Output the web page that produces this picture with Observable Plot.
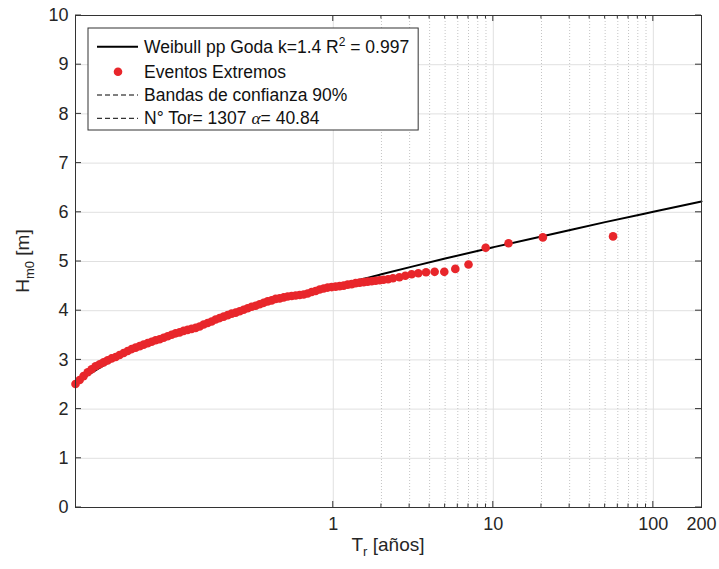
<!DOCTYPE html>
<html><head><meta charset="utf-8">
<script src="https://cdn.jsdelivr.net/npm/d3@7"></script>
<script src="https://cdn.jsdelivr.net/npm/@observablehq/plot@0.6"></script>
<style>body{margin:0;background:#fff} svg{display:block}</style>
</head><body><div id="chart"></div>
<script>
// Extreme events: return period Tr [years] and Hm0 [m]
const eventTr = [0.0245,0.0260,0.0275,0.0292,0.0309,0.0327,0.0347,0.0367,0.0389,0.0412,
  0.0437,0.0462,0.0490,0.0519,0.0550,0.0582,0.0617,0.0653,0.0692,0.0733,
  0.0776,0.0822,0.0871,0.0923,0.0977,0.1035,0.1096,0.1161,0.1230,0.1303,
  0.1380,0.1462,0.1549,0.1641,0.1738,0.1841,0.1950,0.2065,0.2188,0.2317,
  0.2455,0.2600,0.2754,0.2917,0.3090,0.3273,0.3467,0.3673,0.3890,0.4121,
  0.4365,0.4624,0.4898,0.5188,0.5495,0.5821,0.6166,0.6531,0.6918,0.7328,
  0.7762,0.8222,0.8710,0.9226,0.9772,1.035,1.096,1.161,1.230,1.303,
  1.380,1.462,1.549,1.641,1.738,1.841,1.950,
  2.06,2.20,2.36,2.59,2.82,3.09,3.40,3.80,4.30,4.94,5.79,7.0,8.96,12.45,20.4,56.0];
const eventH = [2.51,2.59,2.67,2.75,2.81,2.87,2.91,2.95,2.99,3.03,
  3.06,3.10,3.14,3.18,3.22,3.25,3.28,3.31,3.34,3.37,
  3.40,3.42,3.45,3.48,3.51,3.54,3.56,3.59,3.61,3.63,
  3.65,3.68,3.72,3.75,3.78,3.82,3.85,3.88,3.91,3.94,
  3.96,3.99,4.02,4.05,4.08,4.10,4.13,4.16,4.19,4.21,
  4.24,4.25,4.27,4.29,4.30,4.31,4.32,4.33,4.35,4.38,
  4.40,4.43,4.45,4.47,4.48,4.49,4.50,4.51,4.53,4.54,
  4.56,4.57,4.58,4.59,4.60,4.61,4.62,
  4.63,4.64,4.66,4.68,4.71,4.74,4.76,4.78,4.79,4.79,4.85,4.94,5.28,5.37,5.49,5.51];

// Weibull (Goda pp) fitted curve
const fitTr = [0.0245,0.05,0.1,0.2,0.5,1,2,5,10,20,50,100,200];
const fitH  = [2.53,3.13,3.50,3.84,4.26,4.49,4.74,5.06,5.29,5.51,5.80,6.01,6.22];

const xTickValues = [1,10,100,200];
const xMajorGrid = [1,10,100];
const xMinorGrid = [2,3,4,5,6,7,8,9,20,30,40,50,60,70,80,90];
const yTickValues = [0,1,2,3,4,5,6,7,8,9,10];

const legendLabels = ["Weibull pp Goda k=1.4 R", "Eventos Extremos", "Bandas de confianza 90%", "N° Tor= 1307 "];

const events = eventTr.map((t,i)=>({Tr:t, H:eventH[i]}));
const fit = fitTr.map((t,i)=>({Tr:t, H:fitH[i]}));

const FONT = "'Liberation Sans', Arial, Helvetica, sans-serif";
const RED = "#e8262b";
const AX = "#333333";

const chart = Plot.plot({
  width:719, height:569,
  marginLeft:75, marginRight:18, marginTop:15, marginBottom:62,
  style:{fontFamily:FONT, fontSize:"18px", background:"#fff", color:"#262626"},
  x:{type:"log", domain:[0.0245,200]},
  y:{domain:[0,10]},
  marks:[
    Plot.ruleY(yTickValues,{stroke:"#e0e0e0"}),
    Plot.ruleX(xMajorGrid,{stroke:"#e0e0e0"}),
    Plot.ruleX(xMinorGrid,{stroke:"#c4c4c4", strokeDasharray:"1,2"}),
    Plot.line(fit,{x:"Tr", y:"H", stroke:"#000", strokeWidth:2, curve:"natural"}),
    Plot.dot(events,{x:"Tr", y:"H", r:4.3, fill:RED}),
    Plot.frame({stroke:AX}),
    Plot.axisX({ticks:xTickValues, tickSize:0, tickPadding:10, tickFormat:d=>String(d), label:null}),
    Plot.axisY({ticks:yTickValues, tickSize:0, tickPadding:7, label:null})
  ]
});
document.getElementById("chart").appendChild(chart);

const svg = d3.select(chart);
const xs = chart.scale("x"), ys = chart.scale("y");
const X = v => xs.apply(v), Y = v => ys.apply(v);
const yTop = Y(10), yBot = Y(0), xLeft = X(0.0245), xRight = X(200);

// inward ticks (box style)
const tk = svg.append("g").attr("stroke", AX).attr("stroke-width", 1);
xMajorGrid.forEach(v => {
  tk.append("line").attr("x1",X(v)).attr("x2",X(v)).attr("y1",yBot).attr("y2",yBot-6);
  tk.append("line").attr("x1",X(v)).attr("x2",X(v)).attr("y1",yTop).attr("y2",yTop+6);
});
xMinorGrid.forEach(v => {
  tk.append("line").attr("x1",X(v)).attr("x2",X(v)).attr("y1",yBot).attr("y2",yBot-3.5);
  tk.append("line").attr("x1",X(v)).attr("x2",X(v)).attr("y1",yTop).attr("y2",yTop+3.5);
});
yTickValues.forEach(v => {
  tk.append("line").attr("x1",xLeft).attr("x2",xLeft+6).attr("y1",Y(v)).attr("y2",Y(v));
  tk.append("line").attr("x1",xRight).attr("x2",xRight-6).attr("y1",Y(v)).attr("y2",Y(v));
});

// axis labels
const xl = svg.append("text").attr("x",(xLeft+xRight)/2).attr("y",551)
  .attr("text-anchor","middle").attr("font-family",FONT).attr("font-size",19).attr("fill","#262626");
xl.append("tspan").text("T");
xl.append("tspan").attr("font-size",13).attr("dy",5).text("r");
xl.append("tspan").attr("dy",-5).text(" [años]");

const yl = svg.append("text").attr("transform",`translate(29,${(yTop+yBot)/2}) rotate(-90)`)
  .attr("text-anchor","middle").attr("font-family",FONT).attr("font-size",19).attr("fill","#262626");
yl.append("tspan").text("H");
yl.append("tspan").attr("font-size",13).attr("dy",5).text("m0");
yl.append("tspan").attr("dy",-5).text(" [m]");

// legend
const lg = svg.append("g").attr("font-family",FONT).attr("font-size",17.5).attr("fill","#111")
  .attr("text-anchor","start");
const box = lg.append("rect").attr("x",88).attr("y",28).attr("height",102).attr("width",300)
  .attr("fill","#fff").attr("stroke",AX).attr("stroke-width",1);
const rowsY = [46.7, 71.7, 95, 118.3];
const tx = 144;
const t0 = lg.append("text").attr("x",tx).attr("y",rowsY[0]+6);
t0.append("tspan").text(legendLabels[0]);
t0.append("tspan").attr("font-size",12).attr("dy",-7).text("2");
t0.append("tspan").attr("dy",7).text(" = 0.997");
lg.append("text").attr("x",tx).attr("y",rowsY[1]+6).text(legendLabels[1]);
lg.append("text").attr("x",tx).attr("y",rowsY[2]+6).text(legendLabels[2]);
const t3 = lg.append("text").attr("x",tx).attr("y",rowsY[3]+6);
t3.append("tspan").text(legendLabels[3]);
t3.append("tspan").attr("font-family","'Liberation Serif', serif").attr("font-style","italic").text("α");
t3.append("tspan").text("= 40.84");
lg.append("line").attr("x1",97).attr("x2",138).attr("y1",rowsY[0]).attr("y2",rowsY[0]).attr("stroke","#000").attr("stroke-width",2);
lg.append("circle").attr("cx",118).attr("cy",rowsY[1]).attr("r",4.3).attr("fill",RED);
[2,3].forEach(i => lg.append("line").attr("x1",97).attr("x2",138).attr("y1",rowsY[i]).attr("y2",rowsY[i])
  .attr("stroke","#000").attr("stroke-width",1).attr("stroke-dasharray","5,3"));
const w = t0.node().getBBox().width;
box.attr("width", tx + w + 9 - 88);
</script></body></html>
